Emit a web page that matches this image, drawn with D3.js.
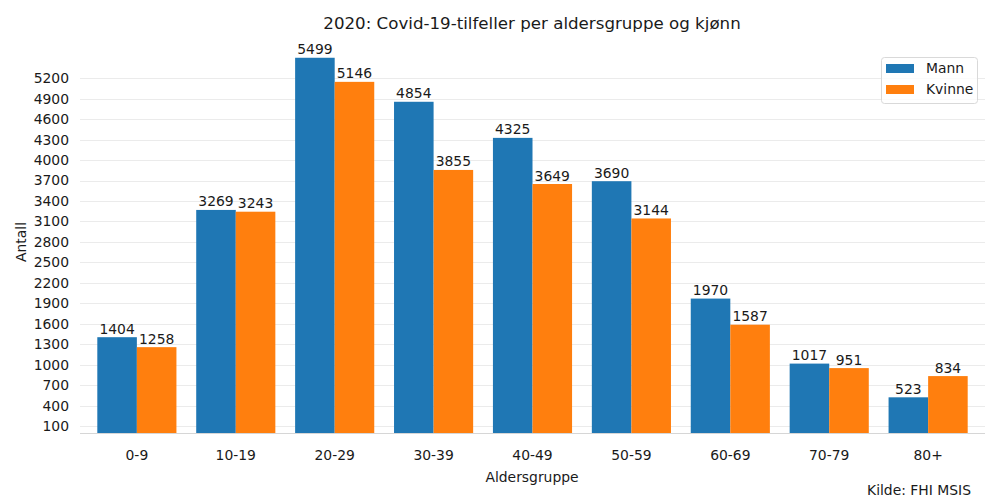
<!DOCTYPE html>
<html><head><meta charset="utf-8">
<script src="https://cdn.jsdelivr.net/npm/d3@7"></script>
<style>body{margin:0;background:#fff}svg{font-family:"DejaVu Sans",sans-serif}</style>
</head><body><svg id="c" width="1000" height="500"></svg>
<script>
const categories = ["0-9","10-19","20-29","30-39","40-49","50-59","60-69","70-79","80+"];
const seriesNames = ["Mann","Kvinne"];
const mann = [1404,3269,5499,4854,4325,3690,1970,1017,523];
const kvinne = [1258,3243,5146,3855,3649,3144,1587,951,834];
const yTicks = [100,400,700,1000,1300,1600,1900,2200,2500,2800,3100,3400,3700,4000,4300,4600,4900,5200];
const colors = ["#1f77b4","#ff7f0e"];

const FS = 13.9;
const svg = d3.select("#c");
const pLeft = 80, pRight = 985, pTop = 39, pBottom = 433;
const x = d3.scaleBand().domain(categories).range([pLeft,pRight]).paddingInner(0.2).paddingOuter(0.175);
const xs = d3.scaleBand().domain(seriesNames).range([0,x.bandwidth()]);
const y = d3.scaleLinear().domain([0,5774]).range([pBottom,pTop]);

// grid
svg.append("g").selectAll("line").data(yTicks).join("line")
  .attr("x1",pLeft).attr("x2",pRight).attr("y1",d=>Math.round(y(d))+0.5).attr("y2",d=>Math.round(y(d))+0.5)
  .attr("stroke","#ebebeb").attr("stroke-width",1);

// y tick labels
const yAxis = svg.append("g").attr("transform",`translate(${pLeft},0)`)
  .call(d3.axisLeft(y).tickValues(yTicks).tickFormat(d3.format("d")).tickSize(0).tickPadding(11));
yAxis.select(".domain").remove();
yAxis.selectAll("text").attr("font-size",FS).attr("fill","#1a1a1a").attr("font-family","DejaVu Sans");

// x axis
const xAxis = svg.append("g").attr("transform",`translate(0,${pBottom})`)
  .call(d3.axisBottom(x).tickSize(0).tickPadding(17));
xAxis.select(".domain").remove();
xAxis.selectAll("text").attr("font-size",FS).attr("fill","#1a1a1a").attr("font-family","DejaVu Sans");

const data = categories.map((c,i)=>({cat:c, vals:[mann[i],kvinne[i]]}));
const groups = svg.append("g").selectAll("g").data(data).join("g")
  .attr("transform",d=>`translate(${x(d.cat)},0)`);
groups.selectAll("rect").data(d=>d.vals.map((v,j)=>({s:seriesNames[j],v,j}))).join("rect")
  .attr("x",d=>xs(d.s)).attr("width",xs.bandwidth())
  .attr("y",d=>y(d.v)).attr("height",d=>pBottom-y(d.v))
  .attr("fill",d=>colors[d.j]);
groups.selectAll("text").data(d=>d.vals.map((v,j)=>({s:seriesNames[j],v,j}))).join("text")
  .attr("x",d=>xs(d.s)+xs.bandwidth()/2).attr("y",d=>y(d.v)-3.5)
  .attr("text-anchor","middle").attr("font-size",FS).attr("fill","#1a1a1a")
  .text(d=>d.v);

// bottom axis line
svg.append("line").attr("x1",pLeft).attr("x2",pRight).attr("y1",pBottom+0.5).attr("y2",pBottom+0.5)
  .attr("stroke","#d6d6d6").attr("stroke-width",1);

// title & labels
svg.append("text").attr("x",532).attr("y",29).attr("text-anchor","middle")
  .attr("font-size",16.67).attr("fill","#1a1a1a").text("2020: Covid-19-tilfeller per aldersgruppe og kjønn");
svg.append("text").attr("x",532).attr("y",482).attr("text-anchor","middle")
  .attr("font-size",FS).attr("fill","#1a1a1a").text("Aldersgruppe");
svg.append("text").attr("transform","translate(26,242) rotate(-90)").attr("text-anchor","middle")
  .attr("font-size",FS).attr("fill","#1a1a1a").text("Antall");
svg.append("text").attr("x",971).attr("y",495).attr("text-anchor","end")
  .attr("font-size",FS).attr("fill","#1a1a1a").text("Kilde: FHI MSIS");

// legend
const lg = svg.append("g");
lg.append("rect").attr("x",881.5).attr("y",57.5).attr("width",96).attr("height",46).attr("rx",3)
  .attr("fill","#fff").attr("fill-opacity",0.8).attr("stroke","#d9d9d9");
seriesNames.forEach((s,i)=>{
  lg.append("rect").attr("x",886).attr("y",64+i*21).attr("width",28).attr("height",9).attr("fill",colors[i]);
  lg.append("text").attr("x",926).attr("y",73+i*21).attr("font-size",FS).attr("fill","#1a1a1a").text(s);
});
</script></body></html>
